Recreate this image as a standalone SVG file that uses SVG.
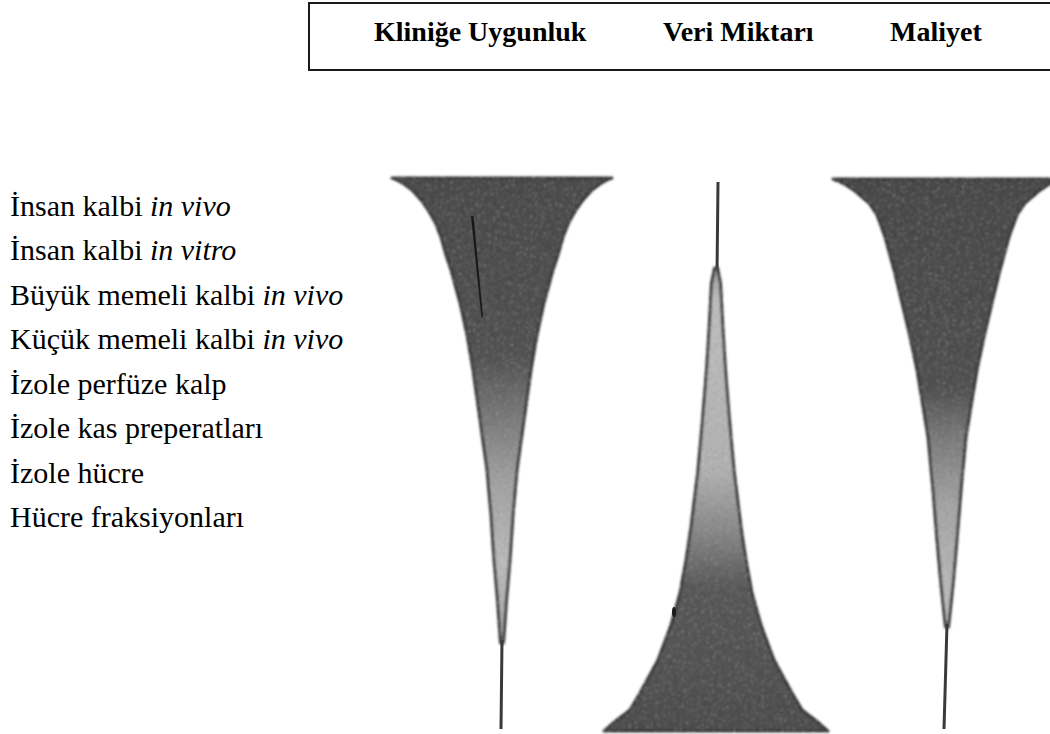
<svg xmlns="http://www.w3.org/2000/svg" width="1050" height="734" viewBox="0 0 1050 734">
  <style>
    .head { font-family: "Liberation Serif", "Times New Roman", serif; font-weight: bold; font-size: 28px; fill: #000; }
    .lbl { font-family: "Liberation Serif", "Times New Roman", serif; font-size: 30px; fill: #000; }
    .it { font-style: italic; }
    .cone { stroke: #3a3a3a; stroke-width: 3; stroke-linejoin: round; filter: url(#grain); }
    .stem { stroke: #3a3a3a; stroke-width: 3; stroke-linecap: butt; fill: none; }
  </style>
  <defs>
    <!-- mottled print texture for the tapered bars -->
    <filter id="grain" x="-5%" y="-2%" width="110%" height="104%">
      <feTurbulence type="fractalNoise" baseFrequency="0.45" numOctaves="2" seed="7" result="noise"/>
      <feColorMatrix in="noise" type="matrix" values="0 0 0 0 0  0 0 0 0 0  0 0 0 0 0  0.9 0 0 0 -0.42" result="dark"/>
      <feColorMatrix in="noise" type="matrix" values="0 0 0 0 1  0 0 0 0 1  0 0 0 0 1  0 -0.9 0 0 0.36" result="light"/>
      <feComposite in="dark" in2="SourceGraphic" operator="in" result="darkIn"/>
      <feComposite in="light" in2="SourceGraphic" operator="in" result="lightIn"/>
      <feMerge result="m"><feMergeNode in="SourceGraphic"/><feMergeNode in="darkIn"/><feMergeNode in="lightIn"/></feMerge>
      <feGaussianBlur in="m" stdDeviation="0.8"/>
    </filter>
    <linearGradient id="gLeft" gradientUnits="userSpaceOnUse" x1="0" y1="178" x2="0" y2="730">
      <stop offset="0" stop-color="#4c4c4c"/>
      <stop offset="0.32" stop-color="#525252"/>
      <stop offset="0.43" stop-color="#7a7a7a"/>
      <stop offset="0.55" stop-color="#a4a4a4"/>
      <stop offset="0.70" stop-color="#bdbdbd"/>
      <stop offset="0.84" stop-color="#aaaaaa"/>
    </linearGradient>
    <linearGradient id="gMid" gradientUnits="userSpaceOnUse" x1="0" y1="178" x2="0" y2="730">
      <stop offset="0.17" stop-color="#9a9a9a"/>
      <stop offset="0.22" stop-color="#c0c0c0"/>
      <stop offset="0.53" stop-color="#b4b4b4"/>
      <stop offset="0.64" stop-color="#8a8a8a"/>
      <stop offset="0.74" stop-color="#5a5a5a"/>
      <stop offset="1" stop-color="#4e4e4e"/>
    </linearGradient>
    <linearGradient id="gRight" gradientUnits="userSpaceOnUse" x1="0" y1="178" x2="0" y2="730">
      <stop offset="0" stop-color="#4a4a4a"/>
      <stop offset="0.38" stop-color="#515151"/>
      <stop offset="0.47" stop-color="#7c7c7c"/>
      <stop offset="0.59" stop-color="#a6a6a6"/>
      <stop offset="0.76" stop-color="#bdbdbd"/>
    </linearGradient>
  </defs>

  <rect width="1050" height="734" fill="#fff"/>

  <!-- column header box, open past the right edge -->
  <g id="header">
    <rect x="309" y="3" width="760" height="67" fill="none" stroke="#1a1a1a" stroke-width="2"/>
    <text class="head" x="374" y="41">Kliniğe Uygunluk</text>
    <text class="head" x="663" y="41">Veri Miktarı</text>
    <text class="head" x="890" y="41">Maliyet</text>
  </g>

  <!-- experimental model levels -->
  <g id="levels">
    <text class="lbl" x="10" y="216">İnsan kalbi <tspan class="it">in vivo</tspan></text>
    <text class="lbl" x="10" y="260">İnsan kalbi <tspan class="it">in vitro</tspan></text>
    <text class="lbl" x="10" y="305">Büyük memeli kalbi <tspan class="it">in vivo</tspan></text>
    <text class="lbl" x="10" y="349">Küçük memeli kalbi <tspan class="it">in vivo</tspan></text>
    <text class="lbl" x="10" y="394">İzole perfüze kalp</text>
    <text class="lbl" x="10" y="438">İzole kas preperatları</text>
    <text class="lbl" x="10" y="483">İzole hücre</text>
    <text class="lbl" x="10" y="527">Hücre fraksiyonları</text>
  </g>

  <!-- clinical relevance: wide at the top, tapering down -->
  <g id="cone-clinical">
    <path class="cone" fill="url(#gLeft)" d="M392,178 L612,178 L607,180 L600,184 L592,190 L583,200 L576,210 L569,222 L563,237 L558,255 L553,270 L544,303 L537,335 L531,370 L524,420 L517,470 L513,515 L510,560 L506.5,600 L503.5,643 L500.5,643 L497.5,600 L494,560 L491,515 L487,470 L480,420 L473,370 L467,335 L460,303 L451,270 L446,255 L441,237 L435,222 L428,210 L421,200 L412,190 L404,184 L397,180 Z"/>
    <line class="stem" x1="502" y1="640" x2="501" y2="729"/>
    <path d="M471,216 L473.5,216 L483,317 L481.5,318 Z" fill="#181818"/>
  </g>

  <!-- amount of data: narrow at the top, widening down -->
  <g id="cone-data">
    <line class="stem" x1="718" y1="182" x2="717" y2="275" stroke-width="4"/>
    <path class="cone" fill="url(#gMid)" d="M717.5,268 L720.5,283 L723,330 L725.5,370 L729.5,420 L734,470 L741,527 L746,560 L752,593 L761,625 L774,660 L792,693 L802,710 L819,723 L828,731 L604,731 L613,723 L630,710 L640,693 L658,660 L671,625 L680,593 L686,560 L691,527 L698,470 L702.5,420 L706.5,370 L709,330 L711.5,283 L714.5,268 Z"/>
    <ellipse cx="674" cy="612" rx="2" ry="5" fill="#1a1a1a"/>
  </g>

  <!-- cost: wide at the top, tapering down -->
  <g id="cone-cost">
    <path class="cone" fill="url(#gRight)" d="M833,179 L1061,179 L1056,181 L1048,185 L1039,191 L1025,203 L1017,215 L1009,237 L1000,270 L992,303 L984,337 L977,370 L966,437 L961,490 L957,540 L953,585 L948.5,627 L945.5,627 L941,585 L937,540 L933,490 L928,437 L917,370 L910,337 L902,303 L894,270 L885,237 L877,215 L869,203 L855,191 L846,185 L838,181 Z"/>
    <line class="stem" x1="947" y1="624" x2="944" y2="729"/>
  </g>
</svg>
